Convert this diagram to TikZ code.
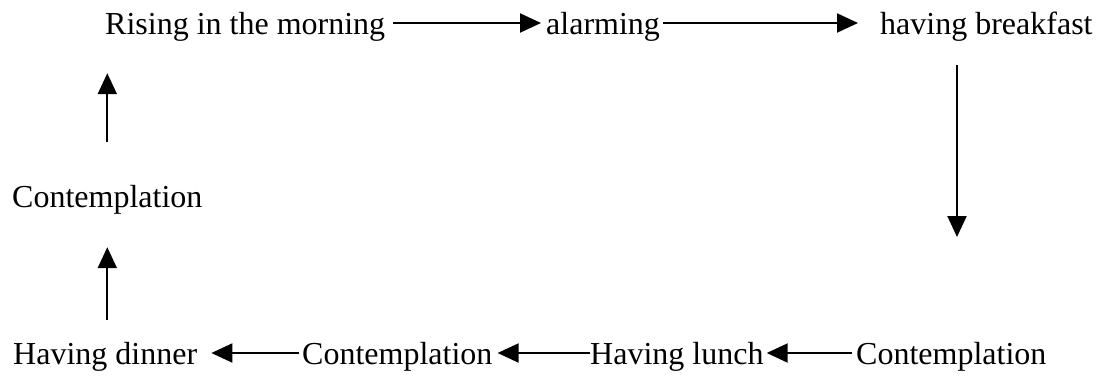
\documentclass[tikz,border=0pt]{standalone}
\usepackage{fontspec}
\setmainfont{Liberation Serif}
\usetikzlibrary{arrows.meta}
\begin{document}
\begin{tikzpicture}[x=1pt,y=-1pt,
  label/.style={anchor=base west,inner sep=0pt,text height=30pt,text depth=8pt,
    font=\fontsize{32}{38}\selectfont},
  flow/.style={line width=2pt,-{Triangle[length=21pt,width=19pt]}}]
\useasboundingbox (0,0) rectangle (1097,378);

% top row
\node[label] (rise)  at (105,34) {Rising in the morning};
\node[label] (alarm) at (546,34) {alarming};
\node[label] (bfast) at (880,34) {having breakfast};

% left column
\node[label] (contL) at (12,207) {Contemplation};

% bottom row
\node[label] (dinner) at (13,364)  {Having dinner};
\node[label] (contM)  at (302,364) {Contemplation};
\node[label] (lunch)  at (590,364) {Having lunch};
\node[label] (contR)  at (856,364) {Contemplation};

\coordinate (down) at (957,237);

% connectors
\draw[flow,shorten <=8pt,shorten >=5pt] (rise.east) -- (alarm.west);
\draw[flow,shorten <=3pt,shorten >=22pt] (alarm.east) -- (bfast.west);
\draw[flow,shorten <=23pt] (down |- bfast.south) -- (down);
\draw[flow,shorten <=4pt,shorten >=3pt] (contR.west) -- (lunch.east);
\draw[flow,shorten <=0pt,shorten >=5pt] (lunch.west) -- (contM.east);
\draw[flow,shorten <=3pt,shorten >=14pt] (contM.west) -- (dinner.east);
\draw[flow,shorten <=14pt,shorten >=32pt] (contL.south |- dinner.north) -- (contL.south);
\draw[flow,shorten <=35pt,shorten >=31pt] (contL.north) -- (contL.north |- rise.south);
\end{tikzpicture}
\end{document}
